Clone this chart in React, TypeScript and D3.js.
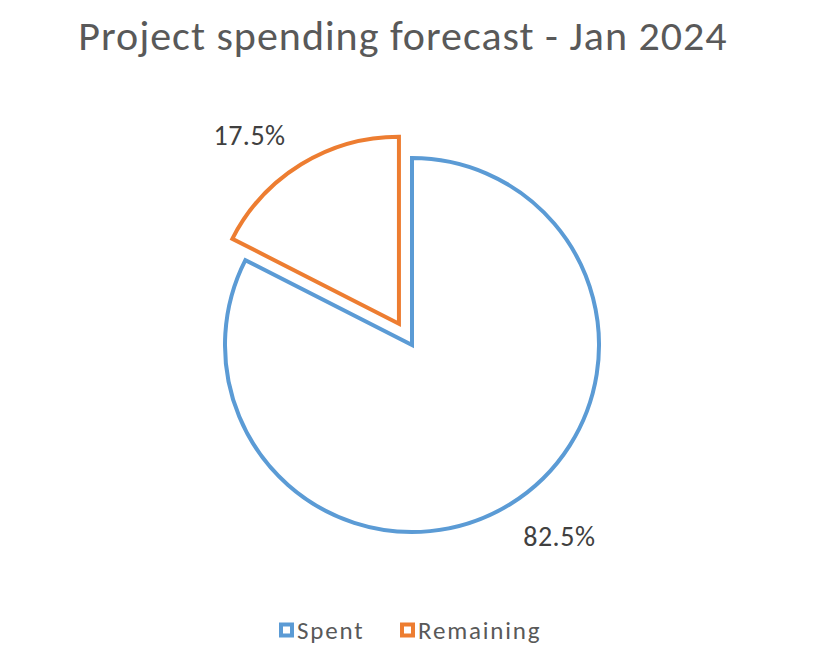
import React from 'react';
import * as d3 from 'd3';

const categories = ['Spent', 'Remaining'];
const values = [82.5, 17.5];
const colors = ['#5B9BD5', '#ED7D31'];

const width = 836;
const height = 662;
const cx = 412;
const cy = 345;
const radius = 187;
const explode = 25;
const font = "Carlito, Calibri, Lato, 'Open Sans', sans-serif";

const App = () => {
  const pie = d3
    .pie<number>()
    .sort(null)
    .value((d) => d)
    .startAngle(0)
    .endAngle(2 * Math.PI);
  const arcs = pie(values);
  const arc = d3.arc<d3.PieArcDatum<number>>().innerRadius(0).outerRadius(radius);

  // explosion only for the "Remaining" slice, label nudges mimic Excel best fit
  const offsets = [0, explode];
  const labelAngleNudge = [-6 * (Math.PI / 180), -7 * (Math.PI / 180)];
  const labelRadius = [242, 240];

  return (
    <svg width={width} height={height} style={{ display: 'block', margin: '-8px' }}>
      <rect width={width} height={height} fill="#fff" />
      <text
        x={403}
        y={50}
        textAnchor="middle"
        fontFamily={font}
        fontSize={42}
        letterSpacing={1}
        fill="#595959"
      >
        Project spending forecast - Jan 2024
      </text>
      {arcs.map((a, i) => {
        const mid = (a.startAngle + a.endAngle) / 2;
        const ox = Math.sin(mid) * offsets[i];
        const oy = -Math.cos(mid) * offsets[i];
        const la = mid + labelAngleNudge[i];
        const lx = ox + Math.sin(la) * labelRadius[i];
        const ly = oy - Math.cos(la) * labelRadius[i];
        return (
          <g key={categories[i]} transform={`translate(${cx},${cy})`}>
            <path
              d={arc(a) || ''}
              transform={`translate(${ox},${oy})`}
              fill="#fff"
              stroke={colors[i]}
              strokeWidth={4}
              strokeLinejoin="miter"
            />
            <text
              x={lx}
              y={ly}
              textAnchor="middle"
              dominantBaseline="central"
              fontFamily={font}
              fontSize={28}
              letterSpacing={0.5}
              fill="#404040"
            >
              {d3.format('.1f')(values[i])}%
            </text>
          </g>
        );
      })}
      <g transform="translate(281,630)">
        {categories.map((c, i) => {
          const x = i === 0 ? 0 : 121;
          return (
            <g key={c} transform={`translate(${x},0)`}>
              <rect x={0} y={-5.5} width={11} height={11} fill="#fff" stroke={colors[i]} strokeWidth={4} />
              <text
                x={16}
                y={0}
                dominantBaseline="central"
                fontFamily={font}
                fontSize={25}
                letterSpacing={1.8}
                fill="#595959"
              >
                {c}
              </text>
            </g>
          );
        })}
      </g>
    </svg>
  );
};

export default App;
